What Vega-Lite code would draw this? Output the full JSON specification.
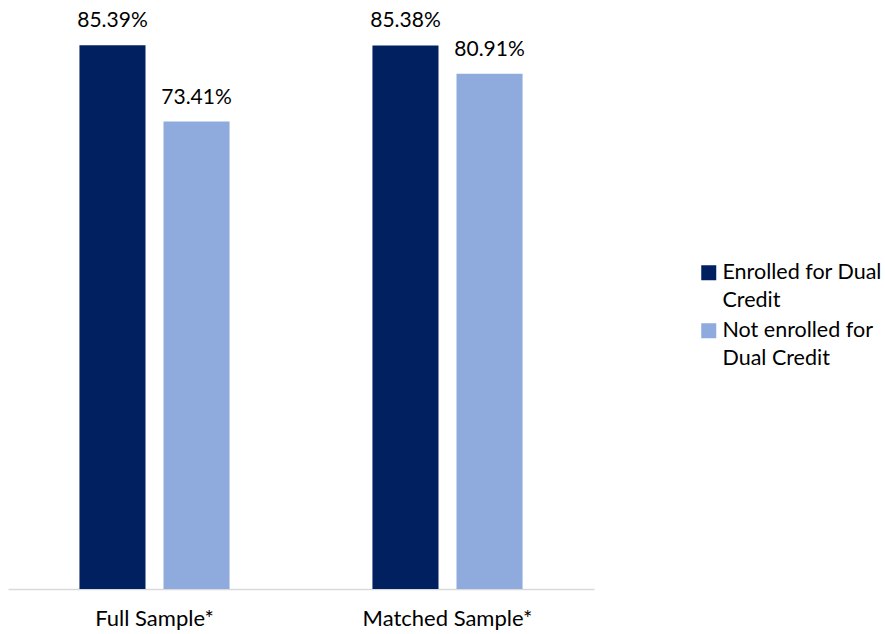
{
  "$schema": "https://vega.github.io/schema/vega-lite/v6.json",
  "width": 586,
  "height": 573,
  "autosize": {"type": "none"},
  "padding": {"left": 8, "top": 16, "right": 291, "bottom": 45},
  "background": "white",
  "config": {
    "view": {"stroke": null},
    "font": "Lato",
    "text": {"font": "Lato"}
  },
  "data": {
    "values": [
      {"sample": "Full Sample*", "group": "Enrolled for Dual Credit", "rate": 0.8539},
      {"sample": "Full Sample*", "group": "Not enrolled for Dual Credit", "rate": 0.7341},
      {"sample": "Matched Sample*", "group": "Enrolled for Dual Credit", "rate": 0.8538},
      {"sample": "Matched Sample*", "group": "Not enrolled for Dual Credit", "rate": 0.8091}
    ]
  },
  "encoding": {
    "x": {
      "field": "sample",
      "type": "nominal",
      "sort": null,
      "scale": {"paddingInner": 0, "paddingOuter": 0},
      "axis": {
        "title": null,
        "labelAngle": 0,
        "labelFont": "Lato",
        "labelFontSize": 22,
        "labelColor": "#000000",
        "labelPadding": 19,
        "ticks": false,
        "domainColor": "#d9d9d9",
        "domainWidth": 1.5,
        "grid": false
      }
    },
    "xOffset": {
      "field": "group",
      "type": "nominal",
      "sort": null,
      "scale": {"paddingInner": 0.214, "paddingOuter": 0.85}
    },
    "y": {
      "field": "rate",
      "type": "quantitative",
      "scale": {"domain": [0, 0.9]},
      "axis": null
    }
  },
  "layer": [
    {
      "mark": {"type": "bar"},
      "encoding": {
        "color": {
          "field": "group",
          "type": "nominal",
          "sort": null,
          "scale": {
            "domain": ["Enrolled for Dual Credit", "Not enrolled for Dual Credit"],
            "range": ["#002060", "#8faadc"]
          },
          "legend": {
            "title": null,
            "orient": "none",
            "legendX": 690,
            "legendY": 246,
            "symbolType": "square",
            "symbolSize": 225,
            "symbolStrokeWidth": 0,
            "labelFont": "Lato",
            "labelFontSize": 21.5,
            "labelColor": "#000000",
            "labelOffset": 3,
            "labelLimit": 300,
            "labelBaseline": "top",
            "labelExpr": "datum.label == 'Enrolled for Dual Credit' ? ['Enrolled for Dual', 'Credit'] : ['Not enrolled for', 'Dual Credit']",
            "rowPadding": 7,
            "encode": {
              "labels": {
                "update": {
                  "lineHeight": {"value": 28},
                  "dy": {"value": -11}
                }
              }
            }
          }
        }
      }
    },
    {
      "mark": {"type": "text", "baseline": "alphabetic", "dy": -18, "fontSize": 21, "font": "Lato", "color": "#000000"},
      "encoding": {
        "text": {"field": "rate", "type": "quantitative", "format": ".2%"}
      }
    }
  ]
}
